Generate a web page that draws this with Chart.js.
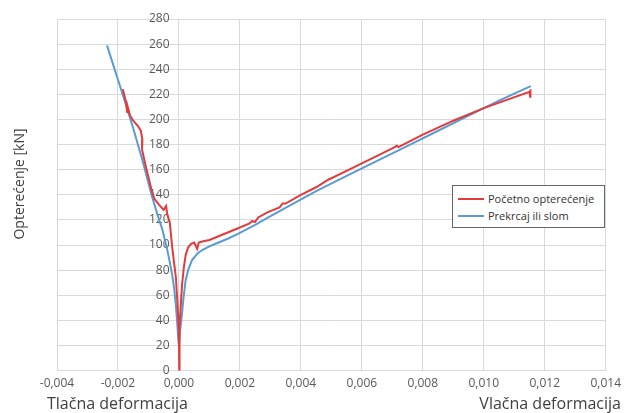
<!DOCTYPE html>
<html>
<head>
<meta charset="utf-8">
<script src="https://cdn.jsdelivr.net/npm/chart.js@4/dist/chart.umd.min.js"></script>
<style>
    html, body { margin: 0; padding: 0; background: #fff; }
    #wrap { position: relative; width: 627px; height: 413px; }
    #legend {
        position: absolute; left: 452px; top: 185px; width: 153px; height: 43px;
        border: 1px solid #666; background: #fff; box-sizing: border-box;
        font-family: "Open Sans", sans-serif; font-size: 11px; color: #333;
        padding: 4px 0 0 5px;
    }
    .row { display: flex; align-items: center; height: 17px; }
    .swatch { width: 26px; height: 2px; margin-right: 4px; }
</style>
</head>
<body>
<div id="wrap">
    <canvas id="chart" width="627" height="413"></canvas>
    <div id="legend">
        <div class="row"><span class="swatch" style="background:#e23b3b"></span>Početno opterećenje</div>
        <div class="row"><span class="swatch" style="background:#5b9bd5"></span>Prekrcaj ili slom</div>
    </div>
</div>
<script>
// Početno opterećenje (red): compression branch, then tension branch
const redX = [-0.00184, -0.00178, -0.00173, -0.00170, -0.00168, -0.00160, -0.00150, -0.00135, -0.00125, -0.00120,
    -0.00121, -0.00110, -0.00098, -0.00090, -0.00081, -0.00065, -0.00050, -0.00042, -0.00038, -0.00034,
    -0.00030, -0.00026, -0.00022, -0.00016, -0.00010, -0.00004, 0.00000, 0.00001,
    0.00002, 0.00005, 0.00010, 0.00016, 0.00022, 0.00030, 0.00040, 0.00050, 0.00056, 0.00060,
    0.00065, 0.00080, 0.00100, 0.00140, 0.00190, 0.00230, 0.00240, 0.00250, 0.00260, 0.00290,
    0.00330, 0.00340, 0.00350, 0.00400, 0.00450, 0.00490, 0.00550, 0.00600, 0.00650, 0.00700,
    0.00715, 0.00720, 0.00800, 0.00900, 0.01000, 0.01080, 0.01150, 0.01152, 0.01153];
const redY = [224, 218, 213, 206, 210, 203, 199, 195, 191, 184,
    176, 164, 152, 144, 137, 132, 128, 131, 124, 121,
    118, 108, 98, 86, 74, 50, 30, 0,
    35, 48, 68, 82, 92, 98, 101, 102, 99, 97,
    102, 103, 104, 108, 113, 117, 119, 118.5, 122, 126,
    130, 133, 133, 140, 146, 152, 159, 165, 171, 177,
    179, 178, 188, 199, 209, 216, 222, 218, 224];

// Prekrcaj ili slom (blue)
const blueX = [-0.00236, -0.00190, -0.00150, -0.00119, -0.00090, -0.00070, -0.00054, -0.00040, -0.00033, -0.00022,
    -0.00016, -0.00010, -0.00005, -0.00002, 0.00000,
    0.00003, 0.00010, 0.00015, 0.00022, 0.00030, 0.00043, 0.00060, 0.00076, 0.00100, 0.00120,
    0.00160, 0.00195, 0.00250, 0.00293, 0.00360, 0.00450, 0.00550, 0.00650, 0.00750, 0.00850,
    0.00950, 0.01050, 0.01154];
const blueY = [259, 224, 193, 167, 140, 124, 112, 98, 90, 76,
    66, 52, 36, 24, 20,
    30, 45, 58, 72, 80, 88, 93, 96, 99, 101,
    105, 109, 116, 122, 131, 143, 155, 167, 179, 191,
    203, 215, 226.5];

const xTicksMin = -0.004, xTicksMax = 0.014, xStep = 0.002;
const yTicksMin = 0, yTicksMax = 280, yStep = 20;

const axisTitles = {
    id: 'axisTitles',
    afterDraw(chart) {
        const ctx = chart.ctx;
        ctx.save();
        ctx.fillStyle = '#404040';
        ctx.font = '16px "Open Sans", sans-serif';
        ctx.textBaseline = 'middle';
        ctx.textAlign = 'left';
        ctx.fillText('Tlačna deformacija', 47, 404);
        ctx.textAlign = 'right';
        ctx.fillText('Vlačna deformacija', 621, 404);
        ctx.translate(20, 184);
        ctx.rotate(-Math.PI / 2);
        ctx.textAlign = 'center';
        ctx.font = '14px "Open Sans", sans-serif';
        ctx.fillText('Opterećenje [kN]', 0, 0);
        ctx.restore();
    }
};

const zip = (xs, ys) => xs.map((x, i) => ({ x: x, y: ys[i] }));
const gridColor = '#d9d9d9';

new Chart(document.getElementById('chart'), {
    type: 'scatter',
    data: {
        datasets: [
            {
                label: 'Početno opterećenje',
                data: zip(redX, redY),
                borderColor: '#e23b3b',
                backgroundColor: '#e23b3b',
                borderWidth: 2,
                showLine: true,
                pointRadius: 0,
                tension: 0
            },
            {
                label: 'Prekrcaj ili slom',
                data: zip(blueX, blueY),
                borderColor: '#5b9bd5',
                backgroundColor: '#5b9bd5',
                borderWidth: 2,
                showLine: true,
                pointRadius: 0,
                tension: 0
            }
        ]
    },
    options: {
        responsive: false,
        animation: false,
        layout: { padding: { left: 57, right: 18, top: 19, bottom: 16 } },
        plugins: { legend: { display: false }, tooltip: { enabled: false } },
        scales: {
            x: {
                type: 'linear',
                min: xTicksMin,
                max: xTicksMax,
                grid: { color: gridColor, drawTicks: false },
                border: { color: gridColor },
                ticks: {
                    stepSize: xStep,
                    padding: 6,
                    color: '#595959',
                    font: { family: 'Open Sans', size: 12 },
                    callback: v => (Math.abs(v) < 1e-9 ? 0 : v).toFixed(3).replace('.', ',')
                }
            },
            y: {
                position: { x: 0 },
                min: yTicksMin,
                max: yTicksMax,
                grid: { color: gridColor, tickLength: 10 },
                border: { color: gridColor },
                ticks: {
                    stepSize: yStep,
                    color: '#595959',
                    font: { family: 'Open Sans', size: 12 },
                    // labels sit left of the zero line; trailing spaces give the gap
                    callback: v => v + '   '
                }
            }
        }
    },
    plugins: [axisTitles]
});
</script>
</body>
</html>
